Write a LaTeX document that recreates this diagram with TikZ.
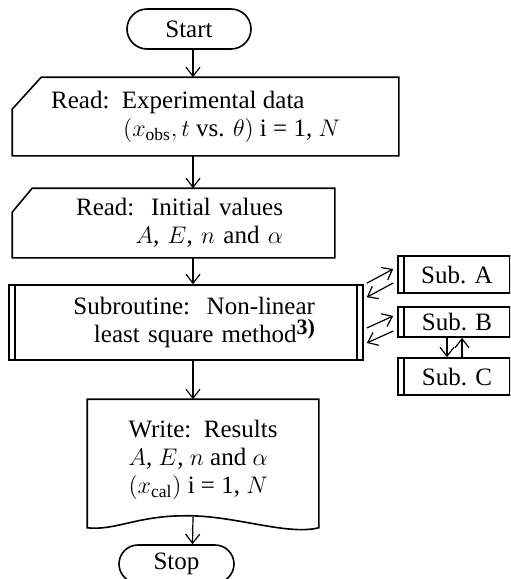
\documentclass[tikz,border=0pt]{standalone}
\usepackage{fontspec}
\setmainfont{Liberation Serif}
\usetikzlibrary{shapes.misc, arrows.meta, positioning}

\begin{document}
\begin{tikzpicture}[x=0.5pt, y=-0.5pt, line width=0.8pt,
    term/.style={rounded rectangle, draw},
    card/.style={rectangle},
    subr/.style={rectangle, draw},
    doc/.style={rectangle}]
  \useasboundingbox (0,0) rectangle (510,579);
  \clip (0,0) rectangle (510,579);
  \coordinate (ax) at (193,0);
  \begin{scope}[every node/.style={font=\fontsize{12.5}{14}\selectfont, inner sep=2pt}]
    \node[term, minimum width=66pt, minimum height=20pt] (start) at (189,29) {Start};
    \node[card, minimum width=192.5pt, minimum height=38.5pt, align=left] (read1) at (205.5,116.5)
      {Read:\ \ Experimental data\\\hspace*{36pt}$(x_{\mathrm{obs}}, t$ vs. $\theta)$ i = 1, $N$\hspace*{10pt}};
    \node[card, minimum width=160.5pt, minimum height=34pt, text width=109.5pt, align=right] (read2) at (173.5,223)
      {Read:\ \ Initial values\\$A$, $E$, $n$ and $\alpha$};
    \node[subr, minimum width=177pt, minimum height=37.5pt, text width=129pt, align=right] (sub) at (186,322.5)
      {Subroutine:\ \ Non-linear\hspace*{1pt}\\least square method\raisebox{0.7ex}{\fontsize{11}{11}\selectfont\bfseries 3)}};
    \node[subr, minimum width=59pt, minimum height=18.5pt] (subA) at (457,274.5) {Sub. A};
    \node[subr, minimum width=59pt, minimum height=15pt] (subB) at (457,322) {Sub. B};
    \node[subr, minimum width=59pt, minimum height=18.5pt] (subC) at (457,376.5) {Sub. C};
    \node[doc, minimum width=115pt, minimum height=60pt, align=left] (write) at (203,460)
      {Write:\ \ Results\\$A$, $E$, $n$ and $\alpha$\\$(x_{\mathrm{cal}})$ i = 1, $N$};
    \node[term, minimum width=61.5pt, minimum height=19pt] (stop) at (176.5,564) {Stop};
  \end{scope}
  % read cards
  \draw ([yshift=-16pt]read1.north west) -- ([xshift=14.5pt]read1.north west) -- (read1.north east)
    -- (read1.south east) -- (read1.south west) -- cycle;
  \draw ([yshift=-12pt]read2.north west) -- ([xshift=10pt]read2.north west) -- (read2.north east)
    -- (read2.south east) -- (read2.south west) -- cycle;
  % subroutine bars
  \foreach \n in {sub, subA, subB, subC}
    \draw ([xshift=3.5pt]\n.north west) -- ([xshift=3.5pt]\n.south west)
      ([xshift=-3.5pt]\n.north east) -- ([xshift=-3.5pt]\n.south east);
  % write document
  \draw (write.north west) -- (write.north east) -- ([shift={(0,7)}]write.south east)
    .. controls ([shift={(-33,15)}]write.south east) and ([shift={(-85,-6)}]write.south east)
    .. ([shift={(97,-5)}]write.south west)
    .. controls ([shift={(50,-5)}]write.south west) and ([shift={(28,10)}]write.south west)
    .. ([shift={(0,7)}]write.south west) -- cycle;
  \begin{scope}[every edge/.style={draw, line width=0.6pt, -{Straight Barb[length=4.5pt,width=7pt]}}]
    \path (start.south -| ax) edge (read1.north -| ax);
    \path (read1.south -| ax) edge (read2.north -| ax);
    \path (read2.south -| ax) edge (sub.north -| ax);
    \path (sub.south -| ax) edge (write.north -| ax);
    \path ([shift={(-10,-4)}]write.south) edge ([xshift=8pt]stop.north);
    \path ([shift={(3,-1)}]sub.north east) edge ([shift={(-4,-5.5)}]subA.west);
    \path ([shift={(-4,8.5)}]subA.west) edge ([shift={(3,13)}]sub.north east);
    \path ([shift={(3,5.5)}]sub.east) edge ([shift={(-4,-6)}]subB.west);
    \path ([shift={(-4,9)}]subB.west) edge ([shift={(3,20.5)}]sub.east);
    \path ([xshift=-5pt]subB.south) edge ([xshift=-5pt]subC.north);
    \path ([xshift=2.5pt]subC.north) edge ([xshift=2.5pt]subB.south);
  \end{scope}
\end{tikzpicture}
\end{document}
